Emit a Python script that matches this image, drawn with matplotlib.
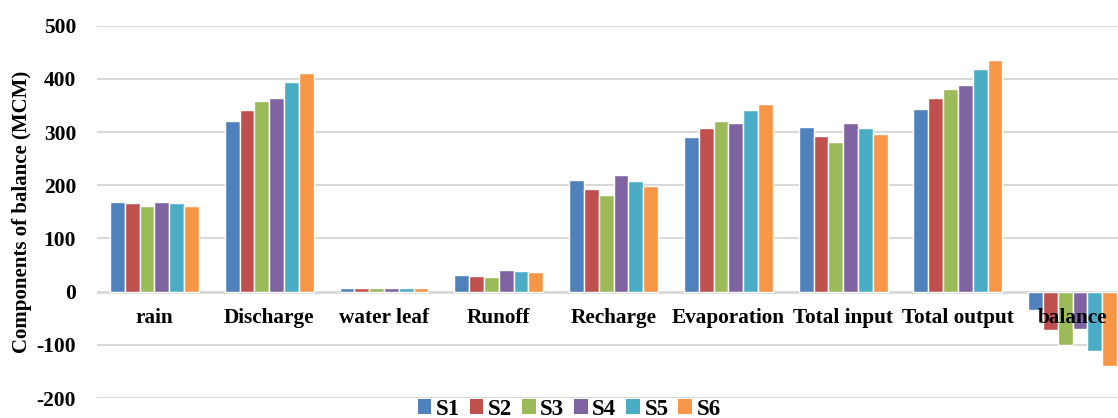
import numpy as np
import matplotlib.pyplot as plt
from matplotlib.patches import Patch

categories = ["rain", "Discharge", "water leaf", "Runoff", "Recharge",
              "Evaporation", "Total input", "Total output", "balance"]
scenarios = ["S1", "S2", "S3", "S4", "S5", "S6"]

s1 = [169, 321, 6, 32, 210, 291, 309, 344, -35]
s2 = [166, 341, 7, 30, 193, 307, 292, 364, -72]
s3 = [161, 358, 7, 27, 182, 320, 281, 381, -100]
s4 = [169, 365, 6, 40, 219, 318, 318, 388, -70]
s5 = [166, 395, 6, 38, 208, 341, 307, 418, -111]
s6 = [161, 412, 7, 36, 198, 353, 296, 435, -139]

colors = ["#4F81BD", "#C0504D", "#9BBB59", "#8064A2", "#4BACC6", "#F79646"]

plt.rcParams['font.family'] = ['Liberation Serif', 'DejaVu Serif']
plt.rcParams['font.weight'] = 'bold'
plt.rcParams['axes.unicode_minus'] = False

fig = plt.figure(figsize=(11.18, 4.18), dpi=100)
ax = fig.add_axes([0.0868, 0.0478, 0.924, 0.8907])

x = np.arange(len(categories))
series = [s1, s2, s3, s4, s5, s6]
w = 0.129
for i, (vals, c) in enumerate(zip(series, colors)):
    ax.bar(x + (i - 2.5) * w, vals, width=w, color=c,
           edgecolor='white', linewidth=1.0, zorder=2)

ax.set_xlim(-0.5, len(categories) - 0.5)
ax.set_ylim(-200, 500)
ax.set_yticks(np.arange(-200, 501, 100))
ax.yaxis.grid(True, color='#d9d9d9', linewidth=1.5)
ax.set_axisbelow(True)
ax.axhline(0, color='#d9d9d9', linewidth=2, zorder=1)

for s in ax.spines.values():
    s.set_visible(False)
ax.set_xticks([])
ax.tick_params(axis='y', length=0, pad=15, labelsize=15.5)
for lbl in ax.get_yticklabels():
    lbl.set_fontweight('bold')

# category names sit just under the zero line, drawn over the bars
for xi, name in zip(x, categories):
    ax.annotate(name, (xi, 0), xytext=(0, -19), textcoords='offset points',
                ha='center', va='center', fontsize=15.3, fontweight='bold',
                zorder=5)

fig.text(22 / 1118, 0.494, "Components of balance (MCM)", rotation=90,
         ha='center', va='center', fontsize=15, fontweight='bold')

handles = [Patch(facecolor=c, edgecolor='none') for c in colors]
fig.legend(handles, scenarios, loc='center', bbox_to_anchor=(0.509, 0.021),
           ncol=6, frameon=False, fontsize=16.5, handlelength=0.6,
           handleheight=0.6, handletextpad=0.2, columnspacing=0.42,
           borderaxespad=0, borderpad=0)

fig.savefig("out.png", dpi=100)
